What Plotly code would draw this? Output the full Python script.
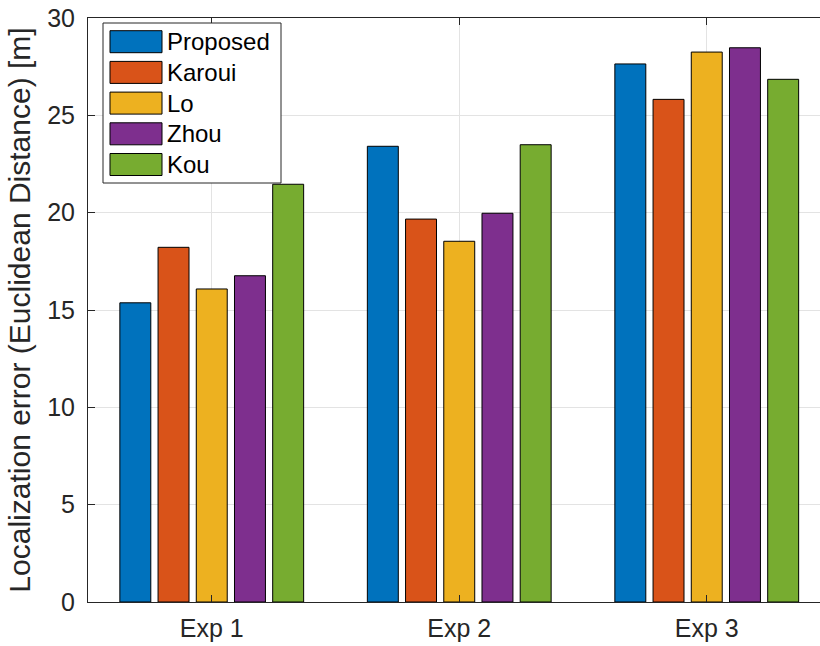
import plotly.graph_objects as go

categories = ["Exp 1", "Exp 2", "Exp 3"]
series_names = ["Proposed", "Karoui", "Lo", "Zhou", "Kou"]
proposed = [15.37, 23.41, 27.64]
karoui = [18.22, 19.67, 25.82]
lo = [16.08, 18.53, 28.25]
zhou = [16.76, 19.97, 28.47]
kou = [21.46, 23.49, 26.85]
series_values = [proposed, karoui, lo, zhou, kou]
colors = ["#0072BD", "#D95319", "#EDB120", "#7E2F8E", "#77AC30"]
y_ticks = [0, 5, 10, 15, 20, 25, 30]

W, H = 820, 646
L, R, T, B = 88, 0, 18, 44
FONT = "Liberation Sans, Arial, Helvetica, sans-serif"
TXT = "#262626"

x_pos = [1, 2, 3]

fig = go.Figure()
for name, vals, col in zip(series_names, series_values, colors):
    fig.add_trace(go.Bar(
        x=x_pos, y=vals, name=name,
        marker=dict(color=col, line=dict(color="#000000", width=1)),
        showlegend=False,
    ))

# manual MATLAB-like legend (paper coords from pixel layout)
pw, ph = W - L - R, H - T - B
def px2x(px):
    return (px - L) / pw
def py2y(py):
    return (H - B - py) / ph

shapes = [dict(type="rect", xref="paper", yref="paper",
               x0=px2x(103), x1=px2x(281), y0=py2y(183), y1=py2y(23),
               line=dict(color="#262626", width=1), fillcolor="white", layer="above")]
annotations = []
for i, (name, col) in enumerate(zip(series_names, colors)):
    cy = 41.7 + i * 30.7
    shapes.append(dict(type="rect", xref="paper", yref="paper",
                       x0=px2x(110), x1=px2x(162), y0=py2y(cy + 11), y1=py2y(cy - 11),
                       line=dict(color="#000000", width=1), fillcolor=col, layer="above"))
    annotations.append(dict(xref="paper", yref="paper", x=px2x(165), y=py2y(cy),
                            text=name, showarrow=False, xanchor="left", yanchor="middle",
                            font=dict(family=FONT, size=24, color="#000000")))

fig.update_layout(
    width=W, height=H,
    margin=dict(l=L, r=R, t=T, b=B, pad=0),
    paper_bgcolor="white", plot_bgcolor="white",
    barmode="group", bargap=0.228, bargroupgap=0.19,
    font=dict(family=FONT, color=TXT),
    shapes=shapes, annotations=annotations,
    showlegend=False,
)
fig.update_xaxes(
    range=[0.5, 0.5 + (W - L) / 247.5], tickvals=x_pos, ticktext=categories,
    showline=True, linecolor=TXT, linewidth=1, mirror="ticks",
    ticks="inside", ticklen=7, tickcolor=TXT,
    showgrid=True, gridcolor="#e3e3e3", gridwidth=1,
    tickfont=dict(family=FONT, size=25, color=TXT),
    zeroline=False, automargin=False, ticklabelstandoff=4,
)
fig.update_yaxes(
    range=[0, 30], tickvals=y_ticks,
    showline=True, linecolor=TXT, linewidth=1, mirror=False,
    ticks="inside", ticklen=7, tickcolor=TXT,
    showgrid=True, gridcolor="#e3e3e3", gridwidth=1,
    tickfont=dict(family=FONT, size=25, color=TXT),
    zeroline=False, automargin=False, ticklabelstandoff=7,
    title=dict(text="Localization error (Euclidean Distance) [m]",
               font=dict(family=FONT, size=30, color=TXT), standoff=7),
)

fig.write_html("out.html")
